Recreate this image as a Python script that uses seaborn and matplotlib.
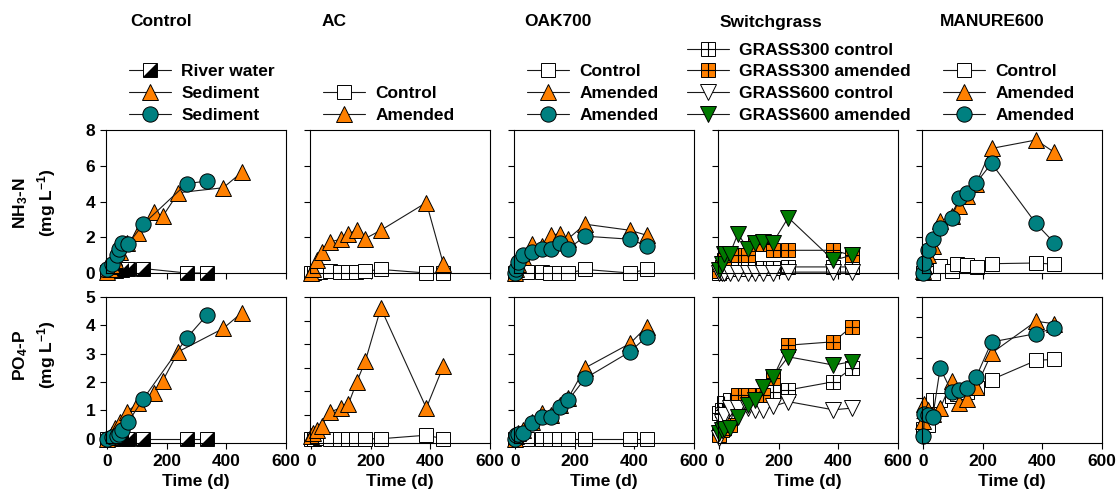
import numpy as np
import pandas as pd
import matplotlib
matplotlib.use("Agg")
import matplotlib.pyplot as plt
import seaborn as sns
from matplotlib.lines import Line2D
from matplotlib.path import Path

sns.set_theme(style="ticks")
plt.rcParams['font.family'] = ['Liberation Sans', 'DejaVu Sans']
plt.rcParams['font.weight'] = 'bold'
plt.rcParams['text.color'] = 'black'
plt.rcParams['axes.labelcolor'] = 'black'
plt.rcParams['xtick.color'] = 'black'
plt.rcParams['ytick.color'] = 'black'
plt.rcParams['mathtext.fontset'] = 'custom'
plt.rcParams['mathtext.rm'] = 'Liberation Sans:bold'
plt.rcParams['mathtext.bf'] = 'Liberation Sans:bold'
plt.rcParams['mathtext.it'] = 'Liberation Sans:bold'
plt.rcParams['mathtext.default'] = 'bf'

# ---------------- data ----------------
# Control
ctrl_rw_days = [0, 14, 28, 48, 70, 120, 266, 336]
ctrl_rw_nh3 = [0.05, 0.1, 0.1, 0.15, 0.2, 0.25, 0.0, 0.0]
ctrl_rw_po4 = [0.0, 0.0, 0.0, 0.0, 0.0, 0.0, 0.0, 0.0]
ctrl_tri_days = [0, 7, 14, 25, 42, 65, 104, 155, 186, 238, 389, 451]
ctrl_tri_nh3 = [0.05, 0.2, 0.4, 0.7, 1.2, 1.7, 2.24, 3.42, 3.18, 4.49, 4.77, 5.63]
ctrl_tri_po4 = [0.0, 0.05, 0.15, 0.37, 0.6, 0.96, 1.25, 1.6, 2.05, 3.07, 3.89, 4.44]
ctrl_cir_days = [0, 14, 31, 40, 48, 70, 120, 266, 333]
ctrl_cir_nh3 = [0.24, 0.52, 0.99, 1.36, 1.68, 1.64, 2.73, 5.0, 5.14]
ctrl_cir_po4 = [0.0, 0.05, 0.1, 0.15, 0.3, 0.6, 1.4, 3.55, 4.35]

# AC
ac_ctrl_days = [0, 7, 30, 61, 96, 123, 151, 181, 233, 386, 443]
ac_ctrl_nh3 = [0.0, 0.0, 0.05, 0.1, 0.05, 0.05, 0.05, 0.1, 0.2, 0.0, 0.0]
ac_ctrl_po4 = [0.0, 0.0, 0.05, 0.0, 0.0, 0.0, 0.0, 0.0, 0.0, 0.15, 0.0]
ac_amd_days = [0, 5, 17, 34, 61, 100, 124, 152, 181, 233, 386, 443]
ac_amd_nh3 = [0.0, 0.24, 0.71, 1.18, 1.74, 1.89, 2.17, 2.43, 1.93, 2.39, 3.94, 0.52]
ac_amd_po4 = [0.1, 0.24, 0.38, 0.56, 1.12, 1.32, 1.46, 2.4, 3.29, 5.53, 1.3, 3.07]

# OAK700
oak_ctrl_days = [0, 10, 38, 88, 116, 146, 178, 234, 385, 441]
oak_ctrl_nh3 = [0.0, 0.05, 0.05, 0.05, 0.0, 0.0, 0.0, 0.2, 0.0, 0.2]
oak_ctrl_po4 = [0.0, 0.0, 0.0, 0.0, 0.0, 0.0, 0.0, 0.0, 0.0, 0.0]
oak_days = [0, 3, 10, 26, 55, 88, 118, 148, 178, 234, 385, 441]
oak_tri_nh3 = [0.0, 0.2, 0.5, 0.9, 1.64, 1.5, 2.11, 2.2, 1.93, 2.73, 2.39, 2.11]
oak_cir_nh3 = [0.0, 0.24, 0.62, 0.99, 1.18, 1.36, 1.36, 1.68, 1.36, 2.06, 1.89, 1.51]
oak_tri_po4 = [0.0, 0.1, 0.2, 0.3, 0.6, 0.9, 0.85, 1.2, 1.45, 2.5, 3.36, 3.95]
oak_cir_po4 = [0.0, 0.12, 0.18, 0.2, 0.55, 0.76, 0.76, 1.13, 1.37, 2.13, 3.07, 3.6]

# Switchgrass
sw_days = [0, 7, 14, 35, 62, 95, 119, 147, 179, 231, 383, 444]
sw_g3c_nh3 = [0.0, 0.1, 0.2, 0.25, 0.25, 0.25, 0.3, 0.3, 0.3, 0.34, 0.34, 0.34]
sw_g3a_nh3 = [0.1, 0.34, 0.71, 0.99, 0.99, 0.99, 1.64, 1.64, 1.27, 1.27, 1.27, 0.99]
sw_g6c_nh3 = [0.0, 0.0, 0.0, 0.0, 0.0, 0.0, 0.0, 0.0, 0.0, 0.05, 0.05, 0.05]
sw_g6a_nh3 = [0.15, 0.5, 1.08, 1.08, 2.2, 1.36, 1.68, 1.74, 1.68, 3.1, 0.71, 0.99]
sw_g3c_po4 = [0.9, 1.02, 1.25, 1.37, 1.4, 1.45, 1.5, 1.55, 1.66, 1.72, 2.01, 2.48]
sw_g3a_po4 = [0.14, 0.3, 0.37, 0.5, 1.55, 1.55, 1.55, 1.55, 2.13, 3.3, 3.42, 3.95]
sw_g6c_po4 = [0.02, 0.6, 0.85, 1.08, 1.08, 1.08, 1.02, 1.02, 1.14, 1.31, 1.02, 1.08]
sw_g6a_po4 = [0.2, 0.32, 0.35, 0.37, 0.78, 1.19, 1.37, 1.84, 2.19, 2.89, 2.6, 2.72]

# MANURE600
mn_ctrl_days = [0, 16, 33, 56, 95, 114, 145, 179, 229, 379, 440]
mn_ctrl_nh3 = [0.0, 0.1, 0.0, 0.37, 0.11, 0.49, 0.43, 0.34, 0.52, 0.56, 0.49]
mn_ctrl_po4 = [0.49, 0.66, 1.89, 1.89, 2.1, 2.2, 2.3, 2.5, 2.92, 3.87, 3.92]
mn_days = [0, 3, 16, 31, 56, 95, 121, 145, 177, 229, 378, 440]
mn_tri_nh3 = [0.1, 0.4, 1.0, 1.5, 2.9, 3.2, 3.74, 4.3, 5.0, 6.97, 7.44, 6.75]
mn_cir_nh3 = [0.0, 0.56, 1.27, 1.93, 2.49, 3.1, 4.17, 4.49, 5.05, 6.13, 2.77, 1.68]
mn_tri_po4 = [0.9, 1.73, 1.4, 1.2, 1.5, 2.83, 1.78, 1.94, 2.55, 4.23, 5.8, 5.68]
mn_cir_po4 = [0.13, 1.2, 1.15, 1.07, 3.49, 2.31, 2.39, 2.5, 3.05, 4.78, 5.19, 5.47]

titles = ['Control', 'AC', 'OAK700', 'Switchgrass', 'MANURE600']
nh3_ymax = [8, 8, 8, 8, 8]
po4_ymax = [5, 6, 5, 5, 7]
x_ticks = [0, 200, 400, 600]

# ---------------- styles ----------------
ORANGE = '#FF8000'
TEAL = '#008080'
GREEN = '#007A00'
TRI_LR = Path([(-1, -1), (1, -1), (1, 1), (-1, -1)],
              [Path.MOVETO, Path.LINETO, Path.LINETO, Path.CLOSEPOLY])
STYLES = {
    'rw': dict(marker='s', ms=10, fc='white', over=TRI_LR, over_mew=0.0),
    'tri': dict(marker='^', ms=11, fc=ORANGE),
    'circ': dict(marker='o', ms=11, fc=TEAL),
    'sq': dict(marker='s', ms=10, fc='white'),
    'gsq_w': dict(marker='s', ms=10, fc='white', over='+', over_mew=0.8),
    'gsq_o': dict(marker='s', ms=10, fc=ORANGE, over='+', over_mew=0.8),
    'dtri_w': dict(marker='v', ms=11, fc='white'),
    'dtri_g': dict(marker='v', ms=11, fc=GREEN),
}

panels = [
    [(ctrl_rw_days, ctrl_rw_nh3, ctrl_rw_po4, 'rw', 'River water'),
     (ctrl_tri_days, ctrl_tri_nh3, ctrl_tri_po4, 'tri', 'Sediment'),
     (ctrl_cir_days, ctrl_cir_nh3, ctrl_cir_po4, 'circ', 'Sediment')],
    [(ac_ctrl_days, ac_ctrl_nh3, ac_ctrl_po4, 'sq', 'Control'),
     (ac_amd_days, ac_amd_nh3, ac_amd_po4, 'tri', 'Amended')],
    [(oak_ctrl_days, oak_ctrl_nh3, oak_ctrl_po4, 'sq', 'Control'),
     (oak_days, oak_tri_nh3, oak_tri_po4, 'tri', 'Amended'),
     (oak_days, oak_cir_nh3, oak_cir_po4, 'circ', 'Amended')],
    [(sw_days, sw_g3c_nh3, sw_g3c_po4, 'gsq_w', 'GRASS300 control'),
     (sw_days, sw_g3a_nh3, sw_g3a_po4, 'gsq_o', 'GRASS300 amended'),
     (sw_days, sw_g6c_nh3, sw_g6c_po4, 'dtri_w', 'GRASS600 control'),
     (sw_days, sw_g6a_nh3, sw_g6a_po4, 'dtri_g', 'GRASS600 amended')],
    [(mn_ctrl_days, mn_ctrl_nh3, mn_ctrl_po4, 'sq', 'Control'),
     (mn_days, mn_tri_nh3, mn_tri_po4, 'tri', 'Amended'),
     (mn_days, mn_cir_nh3, mn_cir_po4, 'circ', 'Amended')],
]

# ---------------- layout (pixels) ----------------
W, H = 1119, 500
fig = plt.figure(figsize=(W / 100, H / 100), dpi=100)
col_left = [106, 310, 514, 718, 922]
col_w = 180
row_top = [130, 297]
row_h = [143, 146]
title_x = [130, 322, 524, 720, 940]
leg_x = [129, 323, 527, 687, 943]

FS = 12.5


def draw(ax, x, y, key):
    st = STYLES[key]
    sns.lineplot(x=x, y=y, ax=ax, color='#1a1a1a', linewidth=0.8,
                 marker=st['marker'], markersize=st['ms'],
                 markerfacecolor=st['fc'], markeredgecolor='black',
                 markeredgewidth=0.7, estimator=None, sort=False,
                 clip_on=False, legend=False)
    if 'over' in st:
        sns.lineplot(x=x, y=y, ax=ax, color='black', linestyle='',
                     marker=st['over'], markersize=st['ms'],
                     markerfacecolor='black', markeredgecolor='black',
                     markeredgewidth=st['over_mew'], estimator=None,
                     sort=False, clip_on=False, legend=False)


def handle(key):
    st = STYLES[key]
    base = Line2D([], [], color='#1a1a1a', linewidth=0.8, marker=st['marker'],
                  markersize=st['ms'], markerfacecolor=st['fc'],
                  markeredgecolor='black', markeredgewidth=0.7)
    if 'over' in st:
        ov = Line2D([], [], linestyle='', marker=st['over'], markersize=st['ms'],
                    markerfacecolor='black', markeredgecolor='black',
                    markeredgewidth=st['over_mew'])
        return (base, ov)
    return base


for c in range(5):
    for r in range(2):
        ax = fig.add_axes([col_left[c] / W, 1 - (row_top[r] + row_h[r]) / H,
                           col_w / W, row_h[r] / H])
        for days, nh3, po4, key, lab in panels[c]:
            draw(ax, days, nh3 if r == 0 else po4, key)
        ymax = nh3_ymax[c] if r == 0 else po4_ymax[c]
        ax.set_xlim(-5, 600)
        ax.set_xticks(x_ticks)
        if r == 0:
            ax.set_ylim(0, ymax)
            ax.set_yticks(np.arange(0, ymax + 1, 2))
        else:
            ax.set_ylim(-0.03 * ymax, ymax)
            ax.set_yticks(np.arange(0, ymax + 1, 1))
        ax.set_xlabel('')
        ax.set_ylabel('')
        ax.tick_params(direction='out', length=4.3, width=0.8, labelsize=FS,
                       pad=3.5, colors='black')
        for s in ax.spines.values():
            s.set_linewidth(0.8)
            s.set_color('black')
        if r == 0:
            ax.tick_params(labelbottom=False)
        else:
            ax.set_xlabel('Time (d)', fontsize=FS, fontweight='bold', labelpad=4,
                          color='black')
        if c != 0:
            ax.tick_params(labelleft=False)
        for t in ax.get_xticklabels() + ax.get_yticklabels():
            t.set_fontweight('bold')
        if r == 0:
            hs = [handle(s[3]) for s in panels[c]]
            ls = [s[4] for s in panels[c]]
            leg = ax.legend(hs, ls, loc='lower left',
                            bbox_to_anchor=(leg_x[c] / W, 1 - 123 / H),
                            bbox_transform=fig.transFigure, frameon=False,
                            borderpad=0, borderaxespad=0, handlelength=2.4,
                            handletextpad=0.6, labelspacing=0.38, numpoints=1,
                            prop={'size': FS, 'weight': 'bold'})
            for t in leg.get_texts():
                t.set_color('black')

for c in range(5):
    fig.text(title_x[c] / W, 1 - 22 / H, titles[c], fontsize=FS,
             fontweight='bold', ha='left', va='center', color='black')

fig.text(21 / W, 1 - 203 / H, r'NH$_\mathbf{3}$-N', rotation=90, fontsize=FS,
         fontweight='bold', ha='center', va='center', color='black')
fig.text(47 / W, 1 - 203 / H, r'(mg L$^\mathbf{-1}$)', rotation=90, fontsize=FS,
         fontweight='bold', ha='center', va='center', color='black')
fig.text(21 / W, 1 - 355 / H, r'PO$_\mathbf{4}$-P', rotation=90, fontsize=FS,
         fontweight='bold', ha='center', va='center', color='black')
fig.text(47 / W, 1 - 355 / H, r'(mg L$^\mathbf{-1}$)', rotation=90, fontsize=FS,
         fontweight='bold', ha='center', va='center', color='black')

fig.savefig('out.png', dpi=100, facecolor='white')
